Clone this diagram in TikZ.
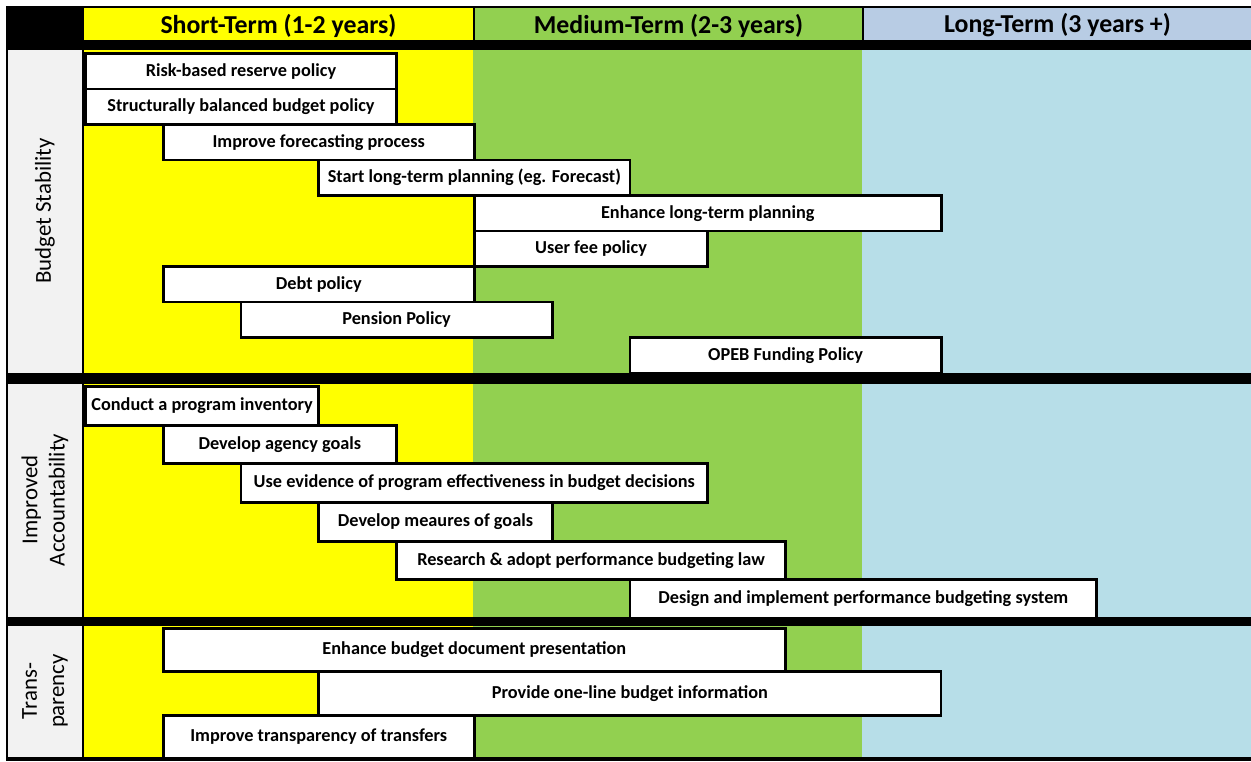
\documentclass[tikz,border=0pt]{standalone}
\usepackage{fontspec}
\setmainfont{Carlito}

\definecolor{shortterm}{HTML}{FFFF00}
\definecolor{mediumterm}{HTML}{92D050}
\definecolor{longterm}{HTML}{B7DEE8}
\definecolor{longhead}{HTML}{B8CCE4}
\definecolor{areagray}{HTML}{F2F2F2}

\tikzset{
  taskbox/.style={draw=black, line width=1.6pt, fill=white, inner sep=0pt,
    anchor=north west, font=\fontsize{10.4}{12}\selectfont\bfseries},
  headtext/.style={font=\fontsize{14.7}{17}\selectfont\bfseries},
  arealabel/.style={rotate=90, align=center, font=\fontsize{13}{15.5}\selectfont},
}

% bar from period #2 to period #3 (one period = a fifth of a column),
% top edge #4, bottom edge #5
\newcommand{\taskbar}[6]{%
  \node[taskbox, minimum width={(#3-#2)*1.556cm}, minimum height={(#5-#4)*0.02cm}]
    (#1) at ({84+77.8*#2},#4) {#6};}

\begin{document}
\begin{tikzpicture}[x=0.02cm,y=-0.02cm]
  \useasboundingbox (0,0) rectangle (1251,761);

  % frame and column backgrounds
  \fill[black] (6,6) rectangle (1251,761);
  \fill[shortterm] (84,8) rectangle (473,40);
  \fill[mediumterm] (475,8) rectangle (862,40);
  \fill[longhead] (864,8) rectangle (1251,40);
  \foreach \top/\bot in {50/373, 384/617, 626/757} {
    \fill[areagray] (8,\top) rectangle (82,\bot);
    \fill[shortterm] (84,\top) rectangle (473,\bot);
    \fill[mediumterm] (473,\top) rectangle (862,\bot);
    \fill[longterm] (862,\top) rectangle (1251,\bot);
  }

  % headings
  \node[headtext] (short) at (278.5,25.5) {Short-Term (1-2 years)};
  \node[headtext] (medium) at (668.5,25.5) {Medium-Term (2-3 years)};
  \node[headtext] (long) at (1057.5,25.5) {Long-Term (3 years +)};

  \node[arealabel] (stability) at (45,211) {Budget Stability};
  \node[arealabel] (accountability) at (45,500) {Improved\\Accountability};
  \node[arealabel] (transparency) at (45,691) {Trans-\\parency};

  % budget stability
  \taskbar{reserve}{0}{4}{52}{87.5}{Risk-based reserve policy}
  \taskbar{balanced}{0}{4}{87.5}{123}{Structurally balanced budget policy}
  \taskbar{forecast}{1}{5}{123}{158.5}{Improve forecasting process}
  \taskbar{startplan}{3}{7}{158.5}{194}{Start long-term planning (eg. Forecast)}
  \taskbar{enhanceplan}{5}{11}{194}{229.5}{Enhance long-term planning}
  \taskbar{userfee}{5}{8}{229.5}{265}{User fee policy}
  \taskbar{debt}{1}{5}{265}{300.5}{Debt policy}
  \taskbar{pension}{2}{6}{300.5}{336}{Pension Policy}
  \taskbar{opeb}{7}{11}{336}{371.5}{OPEB Funding Policy}

  % improved accountability
  \taskbar{inventory}{0}{3}{385}{423.7}{Conduct a program inventory}
  \taskbar{goals}{1}{4}{423.7}{462.3}{Develop agency goals}
  \taskbar{evidence}{2}{8}{462.3}{501}{Use evidence of program effectiveness in budget decisions}
  \taskbar{measures}{3}{6}{501}{539.7}{Develop meaures of goals}
  \taskbar{law}{4}{9}{539.7}{578.3}{Research \& adopt performance budgeting law}
  \taskbar{system}{7}{13}{578.3}{617}{Design and implement performance budgeting system}

  % transparency
  \taskbar{presentation}{1}{9}{627}{670.3}{Enhance budget document presentation}
  \taskbar{oneline}{3}{11}{670.3}{713.7}{Provide one-line budget information}
  \taskbar{transfers}{1}{5}{713.7}{757}{Improve transparency of transfers}
\end{tikzpicture}
\end{document}
